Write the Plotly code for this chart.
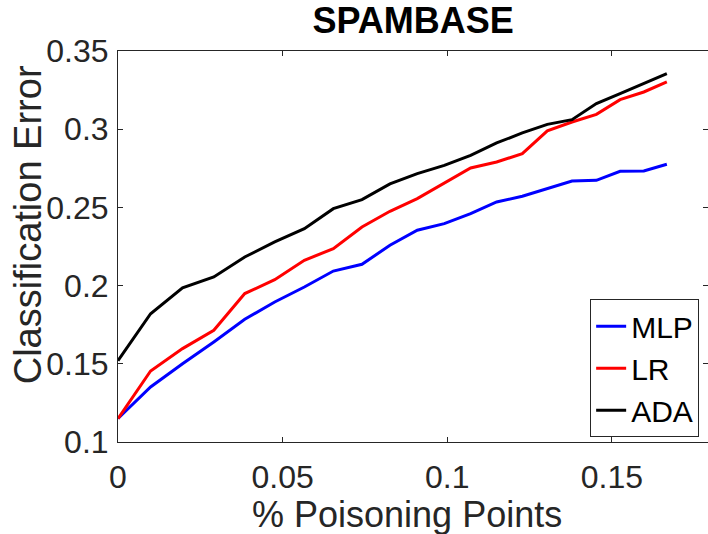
import plotly.graph_objects as go

# fraction of poisoning points
x_vals = [0, 0.0099, 0.0196, 0.0291, 0.0385, 0.0476, 0.0566, 0.0654, 0.0741, 0.0826,
          0.0909, 0.0991, 0.1071, 0.1150, 0.1228, 0.1304, 0.1379, 0.1453, 0.1525,
          0.1597, 0.1667]
mlp = [0.115, 0.1352, 0.150, 0.164, 0.1785, 0.1895, 0.1991, 0.2093, 0.2136, 0.2258,
       0.2354, 0.2396, 0.246, 0.2535, 0.2571, 0.262, 0.2669, 0.2673, 0.2731, 0.2733, 0.2776]
lr = [0.115, 0.1454, 0.1597, 0.1714, 0.1949, 0.2038, 0.2162, 0.2236, 0.2375, 0.2475,
      0.2556, 0.2656, 0.2752, 0.279, 0.2844, 0.2989, 0.3046, 0.3095, 0.3189, 0.3238, 0.3302]
ada = [0.152, 0.182, 0.1985, 0.2055, 0.2183, 0.2279, 0.2364, 0.2492, 0.255, 0.265,
       0.2716, 0.2769, 0.2833, 0.2912, 0.2976, 0.3031, 0.3061, 0.3164, 0.3228, 0.3295, 0.3355]

series_names = ["MLP", "LR", "ADA"]
series_colors = ["#0000FF", "#FF0000", "#000000"]

x_ticks = [0, 0.05, 0.1, 0.15]
x_ticktext = ["0", "0.05", "0.1", "0.15"]
y_ticks = [0.1, 0.15, 0.2, 0.25, 0.3, 0.35]
y_ticktext = ["0.1", "0.15", "0.2", "0.25", "0.3", "0.35"]

FONT = "Liberation Sans, Arial, sans-serif"
AX = "#262626"

fig = go.Figure()
for name, ys, col in zip(series_names, [mlp, lr, ada], series_colors):
    fig.add_trace(go.Scatter(x=x_vals, y=ys, mode="lines", name=name,
                             line=dict(color=col, width=3)))

fig.update_layout(
    width=708, height=534,
    margin=dict(l=118, r=0, t=51, b=92),
    paper_bgcolor="white", plot_bgcolor="white",
    font=dict(family=FONT, color=AX),
    showlegend=True,
    legend=dict(x=0.985, y=0.012, xanchor="right", yanchor="bottom",
                bordercolor=AX, borderwidth=1, bgcolor="white",
                font=dict(size=30, color="#000000", family=FONT),
                tracegroupgap=0, itemwidth=30),
    title=dict(text="<b>SPAMBASE</b>", x=0.5836, xanchor="center",
               y=0.962, yanchor="middle",
               font=dict(size=36, color="#000000", family=FONT)),
)
fig.add_annotation(text="% Poisoning Points", x=0.49, xref="paper", y=-0.185, yref="paper",
                   yanchor="middle", showarrow=False,
                   font=dict(size=36, color=AX, family=FONT))
fig.add_annotation(text="Classification Error", x=-0.152, xref="paper", y=0.555, yref="paper",
                   xanchor="center", yanchor="middle", textangle=-90, showarrow=False,
                   font=dict(size=38, color=AX, family=FONT))

fig.update_xaxes(range=[0, 0.1792], tickvals=x_ticks, ticktext=x_ticktext,
                 ticks="inside", ticklen=5, tickcolor=AX, tickwidth=1,
                 showline=True, linecolor=AX, linewidth=1, mirror="ticks",
                 showgrid=False, zeroline=False,
                 tickfont=dict(size=32, color=AX, family=FONT), ticklabelstandoff=7)
fig.update_yaxes(range=[0.1, 0.35], tickvals=y_ticks, ticktext=y_ticktext,
                 ticks="inside", ticklen=5, tickcolor=AX, tickwidth=1,
                 showline=True, linecolor=AX, linewidth=1, mirror="ticks",
                 showgrid=False, zeroline=False,
                 tickfont=dict(size=32, color=AX, family=FONT), ticklabelstandoff=2)

fig.write_html("out.html")
